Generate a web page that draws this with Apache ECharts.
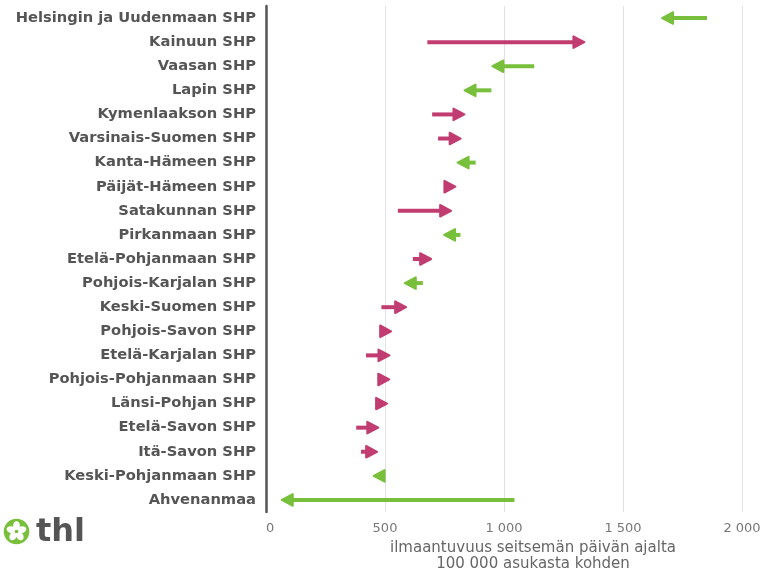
<!DOCTYPE html>
<html>
<head>
<meta charset="utf-8">
<script src="https://cdn.jsdelivr.net/npm/echarts@6/dist/echarts.min.js"></script>
<style>html,body{margin:0;padding:0;background:#fff}#c{width:760px;height:570px}</style>
</head>
<body>
<div id="c"></div>
<script>
var categories = ["Helsingin ja Uudenmaan SHP","Kainuun SHP","Vaasan SHP","Lapin SHP","Kymenlaakson SHP","Varsinais-Suomen SHP","Kanta-Hämeen SHP","Päijät-Hämeen SHP","Satakunnan SHP","Pirkanmaan SHP","Etelä-Pohjanmaan SHP","Pohjois-Karjalan SHP","Keski-Suomen SHP","Pohjois-Savon SHP","Etelä-Karjalan SHP","Pohjois-Pohjanmaan SHP","Länsi-Pohjan SHP","Etelä-Savon SHP","Itä-Savon SHP","Keski-Pohjanmaan SHP","Ahvenanmaa"];
var startValues = [1853, 678, 1127, 947, 698, 723, 881, 755, 554, 817, 617, 659, 485, 485, 420, 490, 485, 379, 399, 492, 1044];
var endValues   = [1660, 1342, 947, 830, 838, 822, 801, 800, 782, 744, 698, 579, 593, 530, 523, 522, 513, 476, 471, 448, 62];
var xTicks = [0, 500, 1000, 1500, 2000];

var GREEN = '#78bf3b';
var MAGENTA = '#c13d71';

var data = categories.map(function (c, i) { return [startValues[i], endValues[i], c]; });

var chart = echarts.init(document.getElementById('c'), null, { renderer: 'canvas' });

function fmt(v) {
  var s = String(v);
  return s.length > 3 ? s.slice(0, s.length - 3) + ' ' + s.slice(-3) : s;
}

var LX = 16.5, LY = 531.5;
var petals = [];
for (var k = 0; k < 5; k++) {
  var a = -Math.PI / 2 + k * 2 * Math.PI / 5;
  petals.push({
    type: 'ellipse',
    x: LX + 5.6 * Math.cos(a), y: LY + 5.6 * Math.sin(a),
    rotation: -(a + Math.PI / 2),
    shape: { cx: 0, cy: 0, rx: 3.4, ry: 4.6 },
    style: { fill: '#fff' }, z: 11
  });
}

chart.setOption({
  animation: false,
  grid: { left: 266, right: 18, top: 6, bottom: 58, containLabel: false, outerBoundsMode: 'none' },
  xAxis: {
    type: 'value',
    min: xTicks[0], max: xTicks[xTicks.length - 1], interval: 500,
    axisLine: { show: false },
    axisTick: { show: false },
    splitLine: { show: true, lineStyle: { color: '#e1e1e6', width: 1 } },
    axisLabel: {
      color: '#777', fontSize: 13, fontFamily: 'DejaVu Sans', margin: 10,
      alignMinLabel: 'left',
      formatter: function (v) { return fmt(v); }
    },
    name: 'ilmaantuvuus seitsemän päivän ajalta\n100 000 asukasta kohden',
    nameLocation: 'middle',
    nameGap: 27,
    nameTextStyle: { color: '#666', fontSize: 15, fontFamily: 'DejaVu Sans', lineHeight: 16, padding: [0, 0, 0, 58] }
  },
  yAxis: {
    type: 'category',
    data: categories,
    inverse: true,
    axisLine: { show: true, lineStyle: { color: '#555', width: 2.5 } },
    axisTick: { show: false },
    splitLine: { show: false },
    axisLabel: { color: '#555', fontSize: 14.7, fontWeight: 'bold', fontFamily: 'DejaVu Sans', margin: 10 }
  },
  series: [{
    type: 'custom',
    encode: { x: [0, 1], y: 2 },
    data: data,
    renderItem: function (params, api) {
      var s = api.coord([api.value(0), api.value(2)]);
      var e = api.coord([api.value(1), api.value(2)]);
      var dir = e[0] >= s[0] ? 1 : -1;
      var color = dir > 0 ? MAGENTA : GREEN;
      var hl = 11, hw = 5.8;
      var tip = e[0] - dir * 1;
      var base = tip - dir * hl;
      var children = [];
      if ((base - s[0]) * dir > 0) {
        children.push({ type: 'line', shape: { x1: s[0], y1: s[1], x2: base + dir * 2, y2: s[1] },
          style: { stroke: color, lineWidth: 4, lineCap: 'butt' } });
      }
      children.push({ type: 'polygon', shape: { points: [[tip, e[1]], [base, e[1] - hw], [base, e[1] + hw]] },
        style: { fill: color, stroke: color, lineWidth: 2, lineJoin: 'round' } });
      return { type: 'group', children: children };
    }
  }],
  graphic: [
    { type: 'circle', shape: { cx: LX, cy: LY, r: 12.8 }, style: { fill: GREEN }, z: 10 }
  ].concat(petals).concat([
    { type: 'circle', shape: { cx: LX, cy: LY, r: 1.8 }, style: { fill: GREEN }, z: 12 },
    { type: 'text', left: 36, top: 517, z: 10,
      style: { text: 'thl', fill: '#555', font: 'bold 32px "DejaVu Sans"' } }
  ])
});
</script>
</body>
</html>
